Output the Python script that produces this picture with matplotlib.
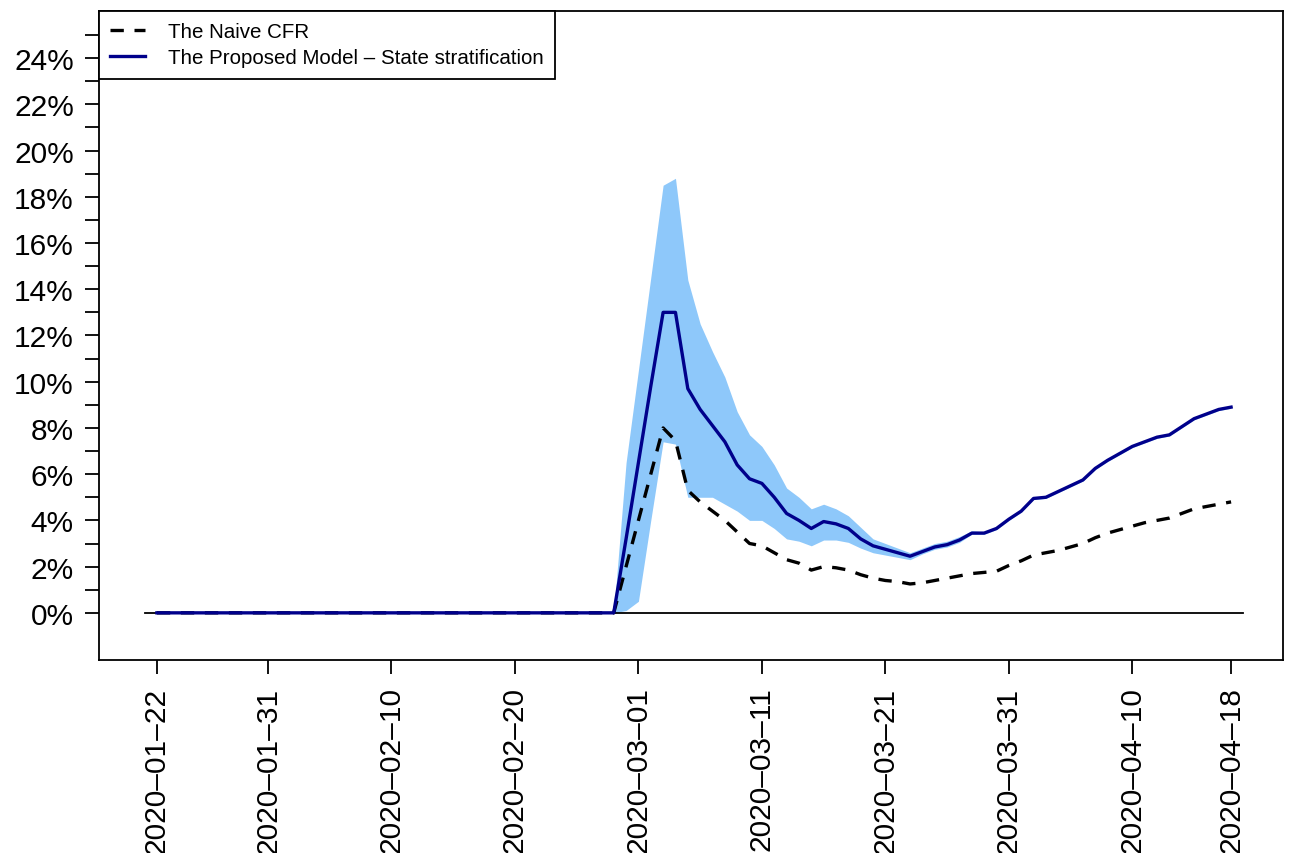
import numpy as np
import pandas as pd
import matplotlib
matplotlib.use("Agg")
import matplotlib.pyplot as plt

plt.rcParams['font.family'] = ['Liberation Sans', 'DejaVu Sans']

# Datos (en %), un valor por dia desde 2020-01-22 hasta 2020-04-18
fechas = pd.date_range("2020-01-22", "2020-04-18", freq="D")

ceros = [0.0] * 37  # 2020-01-22 .. 2020-02-27

naive = ceros + [
    0.0, 2.0, 4.0, 6.0, 8.0, 7.45, 5.3, 4.8, 4.4, 4.0,
    3.5, 3.0, 2.9, 2.6, 2.3, 2.15, 1.85, 2.0, 1.95, 1.85,
    1.65, 1.5, 1.4, 1.35, 1.25, 1.3, 1.4, 1.5, 1.6, 1.7,
    1.75, 1.8, 2.05, 2.25, 2.5, 2.6, 2.7, 2.85, 3.0, 3.25,
    3.45, 3.6, 3.75, 3.9, 4.0, 4.1, 4.3, 4.5, 4.6, 4.7,
    4.8,
]

modelo = ceros + [
    0.0, 3.2, 6.5, 9.8, 13.0, 13.0, 9.7, 8.8, 8.1, 7.4,
    6.4, 5.8, 5.6, 5.0, 4.3, 4.0, 3.65, 3.95, 3.85, 3.65,
    3.2, 2.9, 2.75, 2.6, 2.45, 2.65, 2.85, 2.95, 3.15, 3.45,
    3.45, 3.65, 4.05, 4.4, 4.95, 5.0, 5.25, 5.5, 5.75, 6.25,
    6.6, 6.9, 7.2, 7.4, 7.6, 7.7, 8.05, 8.4, 8.6, 8.8,
    8.9,
]

banda_sup = ceros + [
    0.0, 6.5, 10.5, 14.5, 18.5, 18.8, 14.4, 12.5, 11.3, 10.2,
    8.7, 7.7, 7.2, 6.4, 5.4, 5.0, 4.5, 4.7, 4.5, 4.2,
    3.7, 3.2, 3.0, 2.8, 2.6, 2.8, 3.0, 3.1, 3.3, 3.55,
    3.5, 3.7, 4.1, 4.45, 5.0, 5.05, 5.3, 5.55, 5.8, 6.3,
    6.65, 6.95, 7.25, 7.45, 7.65, 7.75, 8.1, 8.45, 8.65, 8.85,
    8.95,
]

banda_inf = ceros + [
    0.0, 0.1, 0.5, 4.0, 7.4, 7.3, 5.0, 5.0, 5.0, 4.7,
    4.4, 4.0, 4.0, 3.65, 3.2, 3.1, 2.9, 3.15, 3.15, 3.05,
    2.8, 2.6, 2.5, 2.4, 2.3, 2.55, 2.75, 2.85, 3.05, 3.4,
    3.4, 3.6, 4.0, 4.35, 4.9, 4.95, 5.2, 5.45, 5.7, 6.2,
    6.55, 6.85, 7.15, 7.35, 7.55, 7.65, 8.0, 8.35, 8.55, 8.75,
    8.85,
]

ticks_x = ["2020-01-22", "2020-01-31", "2020-02-10", "2020-02-20", "2020-03-01",
           "2020-03-11", "2020-03-21", "2020-03-31", "2020-04-10", "2020-04-18"]

# Grafico
fig = plt.figure(figsize=(12.92, 8.54), dpi=100)
ax = fig.add_axes([0.0766, 0.226, 0.9164, 0.76])

dia = pd.Timedelta(days=1)
ax.plot([fechas[0] - dia, fechas[-1] + dia], [0, 0], color="black", linewidth=1.3)

ax.fill_between(fechas, banda_inf, banda_sup, color="#8EC8FA", linewidth=0)

ax.plot(fechas, naive, color="black", linewidth=2.4, linestyle=(0, (4, 3.2)),
        label="The Naive CFR")
ax.plot(fechas, modelo, color="#00008B", linewidth=2.4,
        label="The Proposed Model \u2013 State stratification")

ax.set_xlim(fechas[0] - 4.69 * dia, fechas[-1] + 4.2 * dia)
ax.set_ylim(-2.04, 26.04)

ax.set_yticks(np.arange(0, 26, 1), minor=False)
ax.set_yticklabels([f"{v}%" if v % 2 == 0 and v <= 24 else "" for v in range(0, 26)])
ax.set_xticks(pd.to_datetime(ticks_x))
ax.set_xticklabels([t.replace("-", "\u2013") for t in ticks_x], rotation=90)

ax.tick_params(axis="both", direction="out", length=10, width=1.3,
               labelsize=21.5, pad=8, color="black")
ax.tick_params(axis="x", pad=9)
for s in ax.spines.values():
    s.set_linewidth(1.3)

leg = ax.legend(loc="upper left", bbox_to_anchor=(0, 1), borderaxespad=0,
                fancybox=False, framealpha=1, edgecolor="black", fontsize=14.8,
                handlelength=1.7, handletextpad=1.1, borderpad=0.55,
                labelspacing=0.35)
leg.get_frame().set_linewidth(1.3)

fig.savefig("out.png", dpi=100)
